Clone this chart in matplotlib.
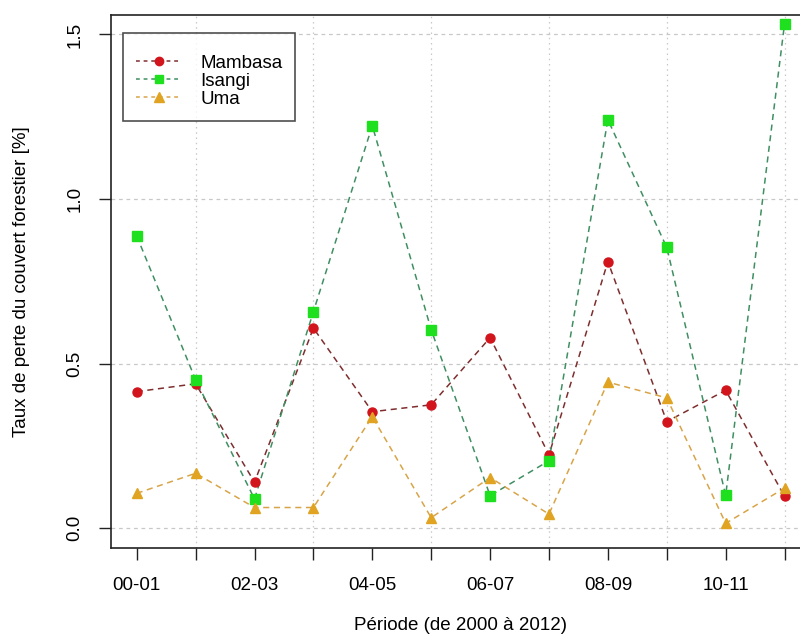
import matplotlib
matplotlib.use("Agg")
import matplotlib.pyplot as plt
from matplotlib.lines import Line2D

periods = ["00-01", "01-02", "02-03", "03-04", "04-05", "05-06",
           "06-07", "07-08", "08-09", "09-10", "10-11", "11-12"]
mambasa = [0.415, 0.439, 0.140, 0.608, 0.354, 0.375, 0.579, 0.223, 0.810, 0.324, 0.419, 0.097]
isangi  = [0.888, 0.451, 0.089, 0.658, 1.223, 0.603, 0.099, 0.205, 1.241, 0.853, 0.100, 1.533]
uma     = [0.106, 0.167, 0.063, 0.063, 0.339, 0.032, 0.154, 0.043, 0.444, 0.396, 0.015, 0.122]
yticks = [0.0, 0.5, 1.0, 1.5]

plt.rcParams['font.family'] = ['Liberation Sans', 'DejaVu Sans']
FS = 13.5

fig = plt.figure(figsize=(8, 6.37), dpi=100)
ax = fig.add_axes([0.1385, 0.1397, 0.8746, 0.8372])

x = list(range(1, len(periods) + 1))

# grid like R grid(): at default axis ticks
for gx in [2, 4, 6, 8, 10, 12]:
    ax.axvline(gx, color='#c8c8c8', lw=0.9, ls=(0, (1.2, 3)), zorder=0)
for gy in yticks:
    ax.axhline(gy, color='#c8c8c8', lw=0.9, ls=(0, (3, 3)), zorder=0)

series = [
    ("Mambasa", mambasa, '#d2141c', '#7e2e2e', 'o', 6.5),
    ("Isangi", isangi, '#1ee01e', '#3f8f62', 's', 6.5),
    ("Uma", uma, '#e0a422', '#d8a448', '^', 7),
]
handles = []
for name, vals, mc, lc, mk, ms in series:
    ax.plot(x, vals, color=lc, lw=1.1, ls=(0, (4, 3)), zorder=2)
    ax.plot(x, vals, ls='none', marker=mk, ms=ms, color=mc, mec=mc, zorder=3)
    handles.append(Line2D([], [], color=lc, lw=1.1, ls=(0, (2.5, 2.5)),
                          marker=mk, ms=ms - 0.5, mfc=mc, mec=mc))

ax.set_xlim(0.56, 12.44)
ax.set_ylim(-0.06, 1.56)
ax.set_xticks(x)
ax.set_xticklabels([p if i % 2 == 0 else "" for i, p in enumerate(periods)], fontsize=FS)
ax.set_yticks(yticks)
ax.set_yticklabels(["0.0", "0.5", "1.0", "1.5"], fontsize=FS, rotation=90, va='center')
ax.tick_params(axis='both', direction='out', length=8.6, width=1.0, color='#222222')
ax.tick_params(axis='x', pad=12)
ax.tick_params(axis='y', pad=11)

for s in ax.spines.values():
    s.set_linewidth(1.2)
    s.set_color('#222222')

ax.set_xlabel("Période (de 2000 à 2012)", fontsize=FS, labelpad=17)
ax.set_ylabel("Taux de perte du couvert forestier [%]", fontsize=FS, labelpad=26)

leg = ax.legend(handles, [s[0] for s in series], loc='upper left',
                bbox_to_anchor=(0.0177, 0.965), fontsize=FS, frameon=True,
                fancybox=False, edgecolor='#222222', handlelength=2.4,
                handletextpad=1.0, borderpad=0.7, labelspacing=0.05,
                borderaxespad=0, title=" ", title_fontsize=5)
leg.get_frame().set_linewidth(1.2)

fig.savefig("out.png", dpi=100)
